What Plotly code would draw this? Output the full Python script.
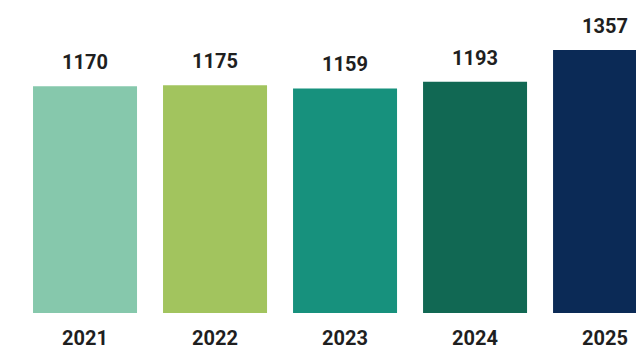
import plotly.graph_objects as go

years = ["2021", "2022", "2023", "2024", "2025"]
values = [1170, 1175, 1159, 1193, 1357]
colors = ["#86C8AC", "#A2C45E", "#17917D", "#116853", "#0B2A56"]

fig = go.Figure()
fig.add_trace(go.Bar(
    x=years, y=values,
    marker=dict(color=colors, line=dict(width=0)),
    hoverinfo="skip",
))

for i, v in enumerate(values):
    fig.add_annotation(
        x=i, y=v, xref="x", yref="y", text=str(v), showarrow=False,
        yanchor="bottom", yshift=10,
        font=dict(family="Roboto", size=20, color="#1f1f1f", weight="bold"),
    )

fig.update_layout(
    width=636, height=350,
    margin=dict(l=0, r=0, t=0, b=34),
    paper_bgcolor="white", plot_bgcolor="white",
    bargap=0.2, showlegend=False,
    xaxis=dict(
        type="category", range=[-0.654, 4.238],
        showgrid=False, zeroline=False, showline=False, ticks="",
        tickfont=dict(family="Roboto", size=20, color="#1f1f1f", weight="bold"),
        ticklabelstandoff=11,
    ),
    yaxis=dict(range=[0, 1615], visible=False, showgrid=False, zeroline=False),
)

fig.write_html("out.html", config={"displayModeBar": False},
               post_script="document.body.style.margin='0px';")
